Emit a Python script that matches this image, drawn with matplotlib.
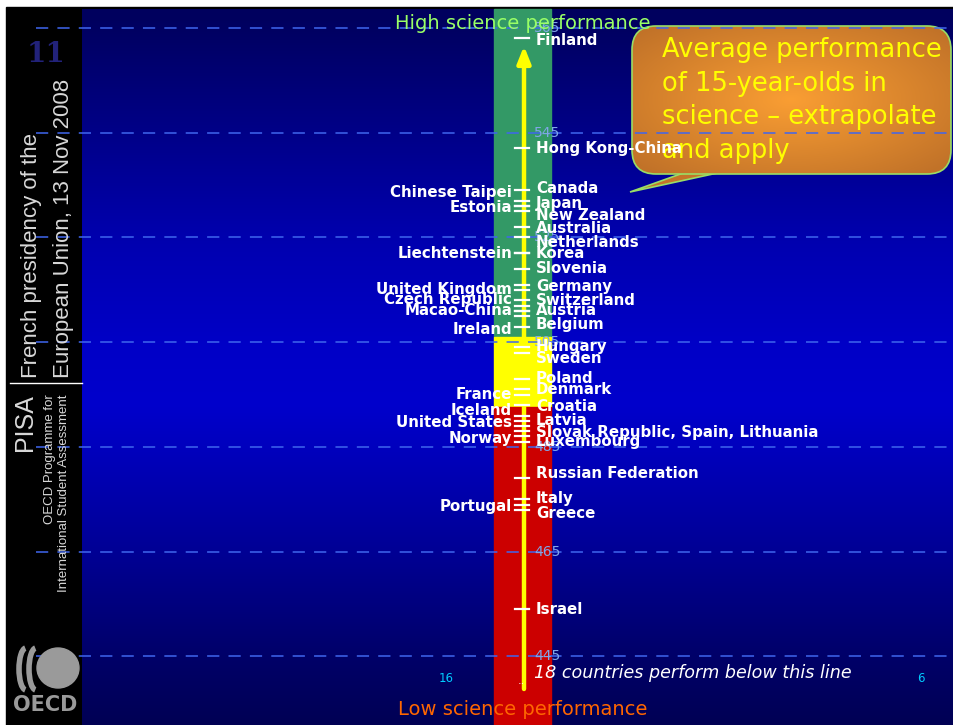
import matplotlib.pyplot as plt
import numpy as np
from matplotlib.patches import Rectangle, FancyBboxPatch, Polygon, Ellipse, Arc


# --------------------------------------------------
# DATA: mean science scores, PISA 2006
# --------------------------------------------------

right_countries = [
    "Finland", "Hong Kong-China", "Canada", "Japan", "New Zealand",
    "Australia", "Netherlands", "Korea", "Slovenia", "Germany",
    "Switzerland", "Austria", "Belgium", "Hungary", "Sweden", "Poland",
    "Denmark", "Croatia", "Latvia", "Slovak Republic, Spain, Lithuania",
    "Luxembourg", "Russian Federation", "Italy", "Greece", "Israel",
]
right_scores = [
    563, 542, 534, 531, 530, 527, 525, 522, 519, 516, 512, 511, 510,
    504, 503, 498, 496, 493, 490, 488, 486, 479, 475, 473, 454,
]

left_countries = [
    "Chinese Taipei", "Estonia", "Liechtenstein", "United Kingdom",
    "Czech Republic", "Macao-China", "Ireland", "France", "Iceland",
    "United States", "Norway", "Portugal",
]
left_scores = [532, 531, 522, 515, 513, 511, 508, 495, 491, 489, 487, 474]

scale_ticks = [565, 545, 525, 505, 485, 465, 445]

# green / yellow / red zones
green_floor = 506
yellow_floor = 492.6

countries_below = 18
left_count = 16
right_count = 6


# --------------------------------------------------
# LABEL NUDGES (score points) so crowded names don't collide
# --------------------------------------------------

right_nudge = [
    -0.3, 0, 0.4, 0.4, -0.8, -0.2, -0.9, 0, 0, -0.3, 1.0, 0, -1.7,
    0.1, -1.2, 0, 0, -0.2, 0, -0.2, 0, 0.95, 0.2, -0.8, 0,
]
left_nudge = [1.5, -0.2, 0, 0, 0.2, 0.15, -0.5, 0, 1.05, 0.6, -0.3, -0.4]


# --------------------------------------------------
# CANVAS: x in pixels, y in score points
# --------------------------------------------------

W, H = 954, 725
PX_PER_POINT = 5.237
TOP_PX = 28  # where 565 sits


def py(px):
    return 565 - (px - TOP_PX) / PX_PER_POINT


fig = plt.figure(figsize=(W / 100, H / 100), dpi=100, facecolor="white")
ax = fig.add_axes([0, 0, 1, 1])
ax.set_xlim(0, W)
ax.set_ylim(py(H), py(0))
ax.axis("off")

# black frame + sidebar
ax.add_patch(Rectangle((6, py(H)), W - 6, py(7) - py(H),
                       color="black", zorder=0))

# blue vertical gradient
rows = np.linspace(0, 1, 400)
stops_px = np.array([9, 130, 237, 340, 400, 447, 551, 656, 725]) / H
stops_b = np.array([0.37, 0.54, 0.69, 0.78, 0.80, 0.74, 0.58, 0.41, 0.33])
blue = np.interp(rows, stops_px, stops_b)
grad = np.zeros((400, 2, 3))
grad[:, :, 2] = blue[:, None]
ax.imshow(grad, extent=[82, W, py(H), py(9)], aspect="auto",
          interpolation="bilinear", zorder=0.5)


# --------------------------------------------------
# COLOURED ZONES AND ARROW
# --------------------------------------------------

band_x, band_w = 494, 57
ax.add_patch(Rectangle((band_x, green_floor), band_w, py(9) - green_floor,
                       color="#339966", zorder=1))
ax.add_patch(Rectangle((band_x, yellow_floor), band_w,
                       green_floor - yellow_floor, color="#FFFF00", zorder=1))
ax.add_patch(Rectangle((band_x, py(H)), band_w, yellow_floor - py(H),
                       color="#CC0000", zorder=1))

arrow_x = 524
ax.annotate(
    "",
    xy=(arrow_x, py(46)),
    xytext=(arrow_x, py(689)),
    arrowprops=dict(arrowstyle="-|>,head_length=1.0,head_width=0.4",
                    color="#FFFF00", lw=3.2, shrinkA=0, shrinkB=0),
    zorder=4,
)


# --------------------------------------------------
# SPEECH BUBBLE
# --------------------------------------------------

tail = Polygon([(686, py(172)), (630, py(192)), (722, py(172))],
               closed=True, facecolor="#C47428", edgecolor="#99DD66",
               lw=1.2, zorder=2)
ax.add_patch(tail)

bubble = FancyBboxPatch(
    (632, py(174)), 319, py(26) - py(174),
    boxstyle="round,pad=0,rounding_size=24",
    mutation_aspect=1 / PX_PER_POINT,
    facecolor="none", edgecolor="#99DD66", lw=1.2, zorder=2.2,
)
ax.add_patch(bubble)

gx, gy = np.meshgrid(np.linspace(-1, 1, 200), np.linspace(-1, 1, 100))
r = np.clip(np.sqrt(gx ** 2 + gy ** 2) / 1.3, 0, 1)
inner = np.array([0.98, 0.62, 0.20])
outer = np.array([0.76, 0.45, 0.16])
bub = inner[None, None, :] * (1 - r[..., None]) + outer[None, None, :] * r[..., None]
im = ax.imshow(bub, extent=[632, 951, py(174), py(26)], aspect="auto",
               interpolation="bilinear", zorder=2.1)
im.set_clip_path(bubble)

bubble_lines = ["Average performance", "of 15-year-olds in",
                "science \u2013 extrapolate", "and apply"]
for i, line in enumerate(bubble_lines):
    ax.text(662, py(50 + i * 33.6), line, color="#FFFF00", fontsize=18.5,
            va="center", ha="left", zorder=6)


# --------------------------------------------------
# GRID LINES AND SCALE VALUES
# --------------------------------------------------

for v in scale_ticks:
    ax.plot([36, 950], [v, v], color="#3F66EE", lw=1.1,
            dashes=(8, 6), zorder=3)
    ax.text(534, v, str(v), color="#7FA6E8", fontsize=10,
            va="center", ha="left", zorder=3.5)


# --------------------------------------------------
# COUNTRY TICKS AND NAMES
# --------------------------------------------------

for s in right_scores + left_scores:
    ax.plot([515, 529], [s, s], color="white", lw=1.6, zorder=5)

for name, s, d in zip(right_countries, right_scores, right_nudge):
    ax.text(536, s + d, name, color="white", fontsize=10.8,
            fontweight="bold", va="center", ha="left", zorder=6)

for name, s, d in zip(left_countries, left_scores, left_nudge):
    ax.text(512, s + d, name, color="white", fontsize=10.8,
            fontweight="bold", va="center", ha="right", zorder=6)

ax.text(521, py(681), "..", color="white", fontsize=8, ha="center",
        va="center", zorder=6)
ax.text(534, py(673), f"{countries_below} countries perform below this line",
        color="white", fontsize=12.6, style="italic", va="center", ha="left",
        zorder=6)
ax.text(446, py(679), str(left_count), color="#00CCFF", fontsize=8.5,
        ha="center", va="center", zorder=6)
ax.text(921, py(679), str(right_count), color="#00CCFF", fontsize=8.5,
        ha="center", va="center", zorder=6)

ax.text(523, py(23), "High science performance", color="#99FF66",
        fontsize=14, ha="center", va="center", zorder=6)
ax.text(523, py(709), "Low science performance", color="#FF6600",
        fontsize=14, ha="center", va="center", zorder=6)


# --------------------------------------------------
# SIDEBAR
# --------------------------------------------------

side = dict(color="#D8D8D8", family="Liberation Sans", rotation=90,
            ha="center", zorder=6)
ax.text(32, py(378), "French presidency of the", fontsize=16,
        va="bottom", **side)
ax.text(64, py(378), "European Union, 13 Nov 2008", fontsize=16,
        va="bottom", **side)
ax.text(25, py(394), "PISA", fontsize=18, va="top", **side)
ax.text(50, py(394), "OECD Programme for", fontsize=9.5, va="top", **side)
ax.text(64, py(394), "International Student Assessment", fontsize=9.5,
        va="top", **side)
ax.plot([10, 82], [py(383), py(383)], color="white", lw=1, zorder=6)

ax.text(46, py(55), "11", color="#22227A", fontsize=20,
        family="DejaVu Serif", fontweight="bold", ha="center", va="center",
        zorder=6)

# logo
ax.add_patch(Ellipse((58, py(668)), 42, 40 / PX_PER_POINT,
                     color="#9A9A9A", zorder=6))
for cx in (20, 30):
    ax.add_patch(Arc((cx + 6, py(669)), 14, 42 / PX_PER_POINT,
                     theta1=100, theta2=260, color="#9A9A9A", lw=4, zorder=6))
ax.text(45, py(705), "OECD", color="#9A9A9A", fontsize=15,
        fontweight="bold", ha="center", va="center", zorder=6)


fig.savefig("out.png", dpi=100, facecolor="white")
plt.close(fig)
